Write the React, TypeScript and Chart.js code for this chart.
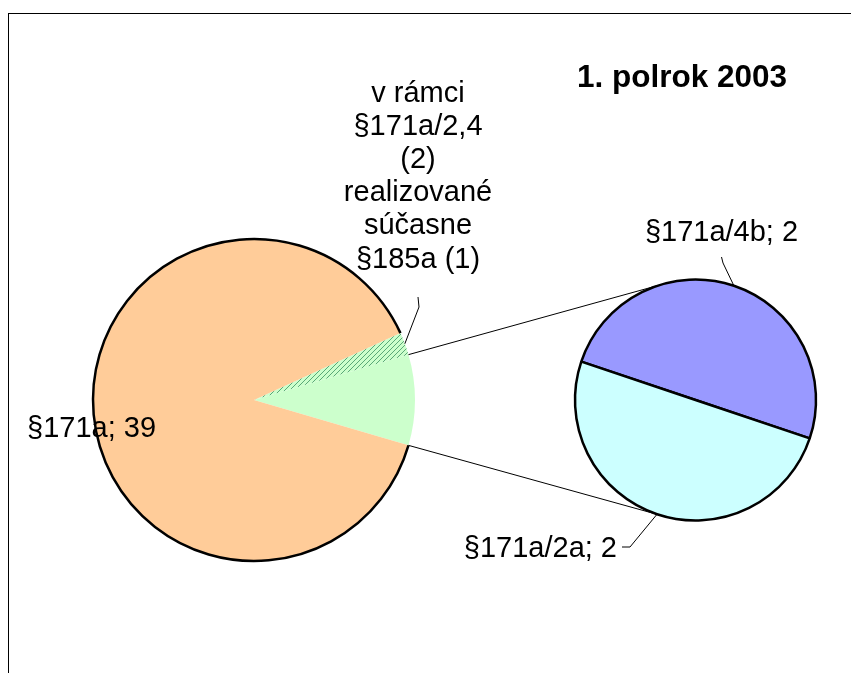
import React, { useEffect, useRef } from "react";
import { Chart, registerables } from "chart.js";
Chart.register(...registerables);

// ---- data ----
const chartTitle = "1. polrok 2003";
const mainCategory = "§171a";
const mainValue = 39;
const hatchedCategoryLines = ["v rámci", "§171a/2,4", "(2)", "realizované", "súčasne", "§185a (1)"];
const hatchedValue = 1;
const secondaryLabels = ["§171a/4b", "§171a/2a"];
const secondaryValues = [2, 2];
const otherValue = secondaryValues.reduce((a, b) => a + b, 0);
const mainLabels = [hatchedCategoryLines.join(" "), "Ostatné", mainCategory];
const mainValues = [hatchedValue, otherValue, mainValue];

// ---- style ----
const W = 851;
const H = 673;
const FONT = '29px "Liberation Sans", Arial, sans-serif';
const TITLE_FONT = 'bold 31.5px "Liberation Sans", Arial, sans-serif';
const ORANGE = "#FFCC99";
const GREEN = "#CCFFCC";
const BLUE = "#9999FF";
const CYAN = "#CCFFFF";

function makeHatch(ctx: CanvasRenderingContext2D) {
  const s = 5;
  const c = document.createElement("canvas");
  c.width = s;
  c.height = s;
  const g = c.getContext("2d")!;
  g.fillStyle = GREEN;
  g.fillRect(0, 0, s, s);
  g.strokeStyle = "#5aa878";
  g.lineWidth = 1;
  g.beginPath();
  g.moveTo(0, s);
  g.lineTo(s, 0);
  g.moveTo(-1, 1);
  g.lineTo(1, -1);
  g.moveTo(s - 1, s + 1);
  g.lineTo(s + 1, s - 1);
  g.stroke();
  return ctx.createPattern(c, "repeat")!;
}

export default function App() {
  const mainRef = useRef<HTMLCanvasElement>(null);
  const secRef = useRef<HTMLCanvasElement>(null);

  useEffect(() => {
    const secCanvas = secRef.current!;
    const mainCanvas = mainRef.current!;

    const secChart = new Chart(secCanvas, {
      type: "pie",
      data: {
        labels: secondaryLabels,
        datasets: [
          {
            data: secondaryValues,
            backgroundColor: [BLUE, CYAN],
            borderColor: "#000",
            borderWidth: 2.5,
            hoverOffset: 0,
          },
        ],
      },
      options: {
        responsive: false,
        animation: false,
        events: [],
        rotation: 288.6,
        layout: { padding: { left: 573.75, right: 33.75, top: 278.25, bottom: 151.25 } },
        plugins: { legend: { display: false }, tooltip: { enabled: false }, title: { display: false } },
      },
    });

    const hatch = makeHatch(mainCanvas.getContext("2d")!);
    const total = mainValues.reduce((a, b) => a + b, 0);
    const rotation = 90 - ((otherValue / 2 + hatchedValue) / total) * 360;

    const overlay = {
      id: "overlay",
      afterDraw(chart: any) {
        const ctx: CanvasRenderingContext2D = chart.ctx;
        const arcs = chart.getDatasetMeta(0).data;
        const sArcs = secChart.getDatasetMeta(0).data as any[];
        const P = ["x", "y", "startAngle", "endAngle", "outerRadius"];
        const hA = arcs[0].getProps(P, true);
        const gA = arcs[1].getProps(P, true);
        const oA = arcs[2].getProps(P, true);
        const s0 = sArcs[0].getProps(P, true);
        const s1 = sArcs[1].getProps(P, true);
        const pt = (a: any, ang: number) => [a.x + a.outerRadius * Math.cos(ang), a.y + a.outerRadius * Math.sin(ang)];
        ctx.save();
        // orange outer border
        ctx.strokeStyle = "#000";
        ctx.lineWidth = 2.5;
        ctx.beginPath();
        ctx.arc(oA.x, oA.y, oA.outerRadius, oA.startAngle, oA.endAngle);
        ctx.stroke();
        // connector lines
        ctx.lineWidth = 1;
        const c1 = pt(gA, gA.startAngle);
        const c2 = pt(gA, gA.endAngle);
        const d1 = pt(s0, (-108 * Math.PI) / 180);
        const d2 = pt(s0, (104 * Math.PI) / 180);
        ctx.beginPath();
        ctx.moveTo(c1[0], c1[1]);
        ctx.lineTo(d1[0], d1[1]);
        ctx.moveTo(c2[0], c2[1]);
        ctx.lineTo(d2[0], d2[1]);
        ctx.stroke();
        // leader lines
        const hm = pt(hA, (hA.startAngle + hA.endAngle) / 2);
        const bm = pt(s0, (s0.startAngle + s0.endAngle) / 2);
        const cm = pt(s1, (s1.startAngle + s1.endAngle) / 2);
        ctx.beginPath();
        ctx.moveTo(418, 297);
        ctx.lineTo(419, 307);
        ctx.lineTo(hm[0], hm[1]);
        ctx.moveTo(721.5, 257);
        ctx.lineTo(723, 263);
        ctx.lineTo(bm[0], bm[1]);
        ctx.moveTo(622, 547);
        ctx.lineTo(630, 547);
        ctx.lineTo(cm[0], cm[1]);
        ctx.stroke();
        // texts
        ctx.fillStyle = "#000";
        ctx.textBaseline = "alphabetic";
        ctx.font = TITLE_FONT;
        ctx.textAlign = "center";
        ctx.fillText(chartTitle, 682, 87);
        ctx.font = FONT;
        hatchedCategoryLines.forEach((line, i) => {
          ctx.fillText(line, 418, 101.5 + i * 33.2);
        });
        ctx.fillText(`${secondaryLabels[0]}; ${secondaryValues[0]}`, 721.5, 241);
        ctx.textAlign = "left";
        ctx.fillText(`${mainCategory}; ${mainValue}`, 27, 437);
        ctx.textAlign = "right";
        ctx.fillText(`${secondaryLabels[1]}; ${secondaryValues[1]}`, 617, 557);
        ctx.restore();
      },
    };

    const mainChart = new Chart(mainCanvas, {
      type: "pie",
      data: {
        labels: mainLabels,
        datasets: [
          {
            data: mainValues,
            backgroundColor: [hatch as any, GREEN, ORANGE],
            borderWidth: 0,
            hoverOffset: 0,
          },
        ],
      },
      options: {
        responsive: false,
        animation: false,
        events: [],
        rotation,
        layout: { padding: { left: 93, right: 436, top: 239, bottom: 112 } },
        plugins: { legend: { display: false }, tooltip: { enabled: false }, title: { display: false } },
      },
      plugins: [overlay],
    });

    return () => {
      mainChart.destroy();
      secChart.destroy();
    };
  }, []);

  const abs: React.CSSProperties = { position: "absolute", left: 0, top: 0, width: W, height: H };
  return (
    <div style={{ ...abs, overflow: "hidden", background: "#fff" }}>
      <div
        style={{
          position: "absolute",
          left: 8,
          top: 13,
          width: 1000,
          height: 1000,
          border: "1px solid #000",
          boxSizing: "border-box",
        }}
      />
      <canvas ref={secRef} width={W} height={H} style={abs} />
      <canvas ref={mainRef} width={W} height={H} style={abs} />
    </div>
  );
}
